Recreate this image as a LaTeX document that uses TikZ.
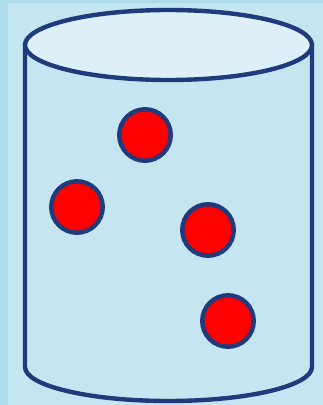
\documentclass[tikz,border=0pt]{standalone}
\usepackage{tikz}
\definecolor{bgOuter}{HTML}{AEDCEB}
\definecolor{bgInner}{HTML}{C4E6F1}
\definecolor{jarBody}{HTML}{C5E6F0}
\definecolor{jarTop}{HTML}{DDF0F7}
\definecolor{jarEdge}{HTML}{1F3B7C}
\definecolor{ballRed}{HTML}{FF0000}
\tikzset{
  jarline/.style={jarEdge,line width=2.5pt},
  ball/.style={circle,fill=ballRed,draw=jarEdge,line width=2.5pt,
    minimum size=1.03cm,inner sep=0pt}
}

\begin{document}
\begin{tikzpicture}[x=1cm,y=1cm]
\useasboundingbox (0,0) rectangle (6.46,8.1);

% Background.
\fill[bgOuter] (0,0) rectangle (6.46,8.1);
\fill[bgInner] (0.16,0) rectangle (6.46,8.04);

% Jar body: sides and bottom arc.
\filldraw[jarline,fill=jarBody]
  (0.50,7.20)--(0.50,0.76) arc[start angle=180,end angle=360,x radius=2.87,y radius=0.68]
  --(6.24,7.20)--cycle;
% Jar top.
\filldraw[jarline,fill=jarTop] (3.37,7.20) ellipse[x radius=2.87,y radius=0.70];

% Balls inside the jar.
\foreach \x/\y/\n in {2.90/5.40/1,1.54/3.96/2,4.16/3.50/3,4.56/1.68/4} {
  \node[ball] (ball\n) at (\x,\y) {};
}

\end{tikzpicture}
\end{document}
